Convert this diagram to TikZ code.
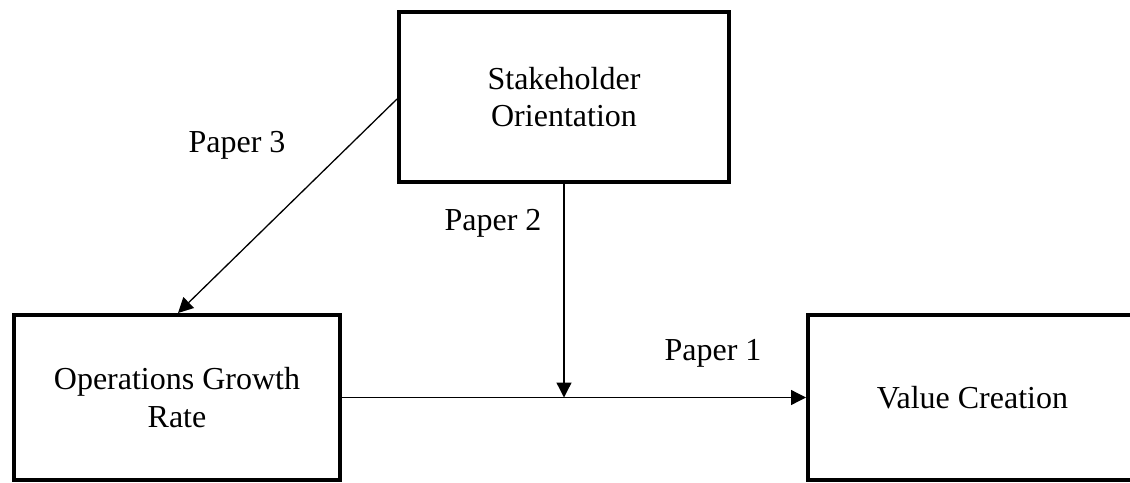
\documentclass[tikz,border=0pt]{standalone}
\usepackage{fontspec}
\setmainfont{Liberation Serif}
\newfontfamily\tnr{Liberation Serif}
\usetikzlibrary{arrows.meta}
\begin{document}
\begin{tikzpicture}[x=1pt,y=-1pt,
  box/.style={draw=black,line width=4pt,align=center,inner sep=0pt,font=\tnr\fontsize{32}{37.5}\selectfont},
  lbl/.style={inner sep=0pt,font=\tnr\fontsize{32}{37.5}\selectfont},
  conn/.style={line width=1.3pt,-{Triangle[length=15pt,width=15pt]}}]
\useasboundingbox (0,0) rectangle (1130,482);
\node[box,minimum width=330pt,minimum height=170pt] (so) at (564,97) {Stakeholder\\Orientation};
\node[box,minimum width=326pt,minimum height=165pt] (og) at (177,397.5) {Operations Growth\\Rate};
\node[box,minimum width=329pt,minimum height=165pt] (vc) at (972.5,397.5) {Value Creation};
\coordinate (sobot) at (564,184);
\coordinate (mid) at (564,397.5);
\coordinate (diagstart) at (397,99);
\coordinate (diagend) at (178,313);
\draw[conn] (og.east) -- (vc.west);
\draw[conn] (sobot) -- (mid);
\draw[conn] (diagstart) -- (diagend);
\node[lbl] (p3) at (237,145) {Paper 3};
\node[lbl] (p2) at (493,223) {Paper 2};
\node[lbl] (p1) at (713,353) {Paper 1};
\end{tikzpicture}
\end{document}
